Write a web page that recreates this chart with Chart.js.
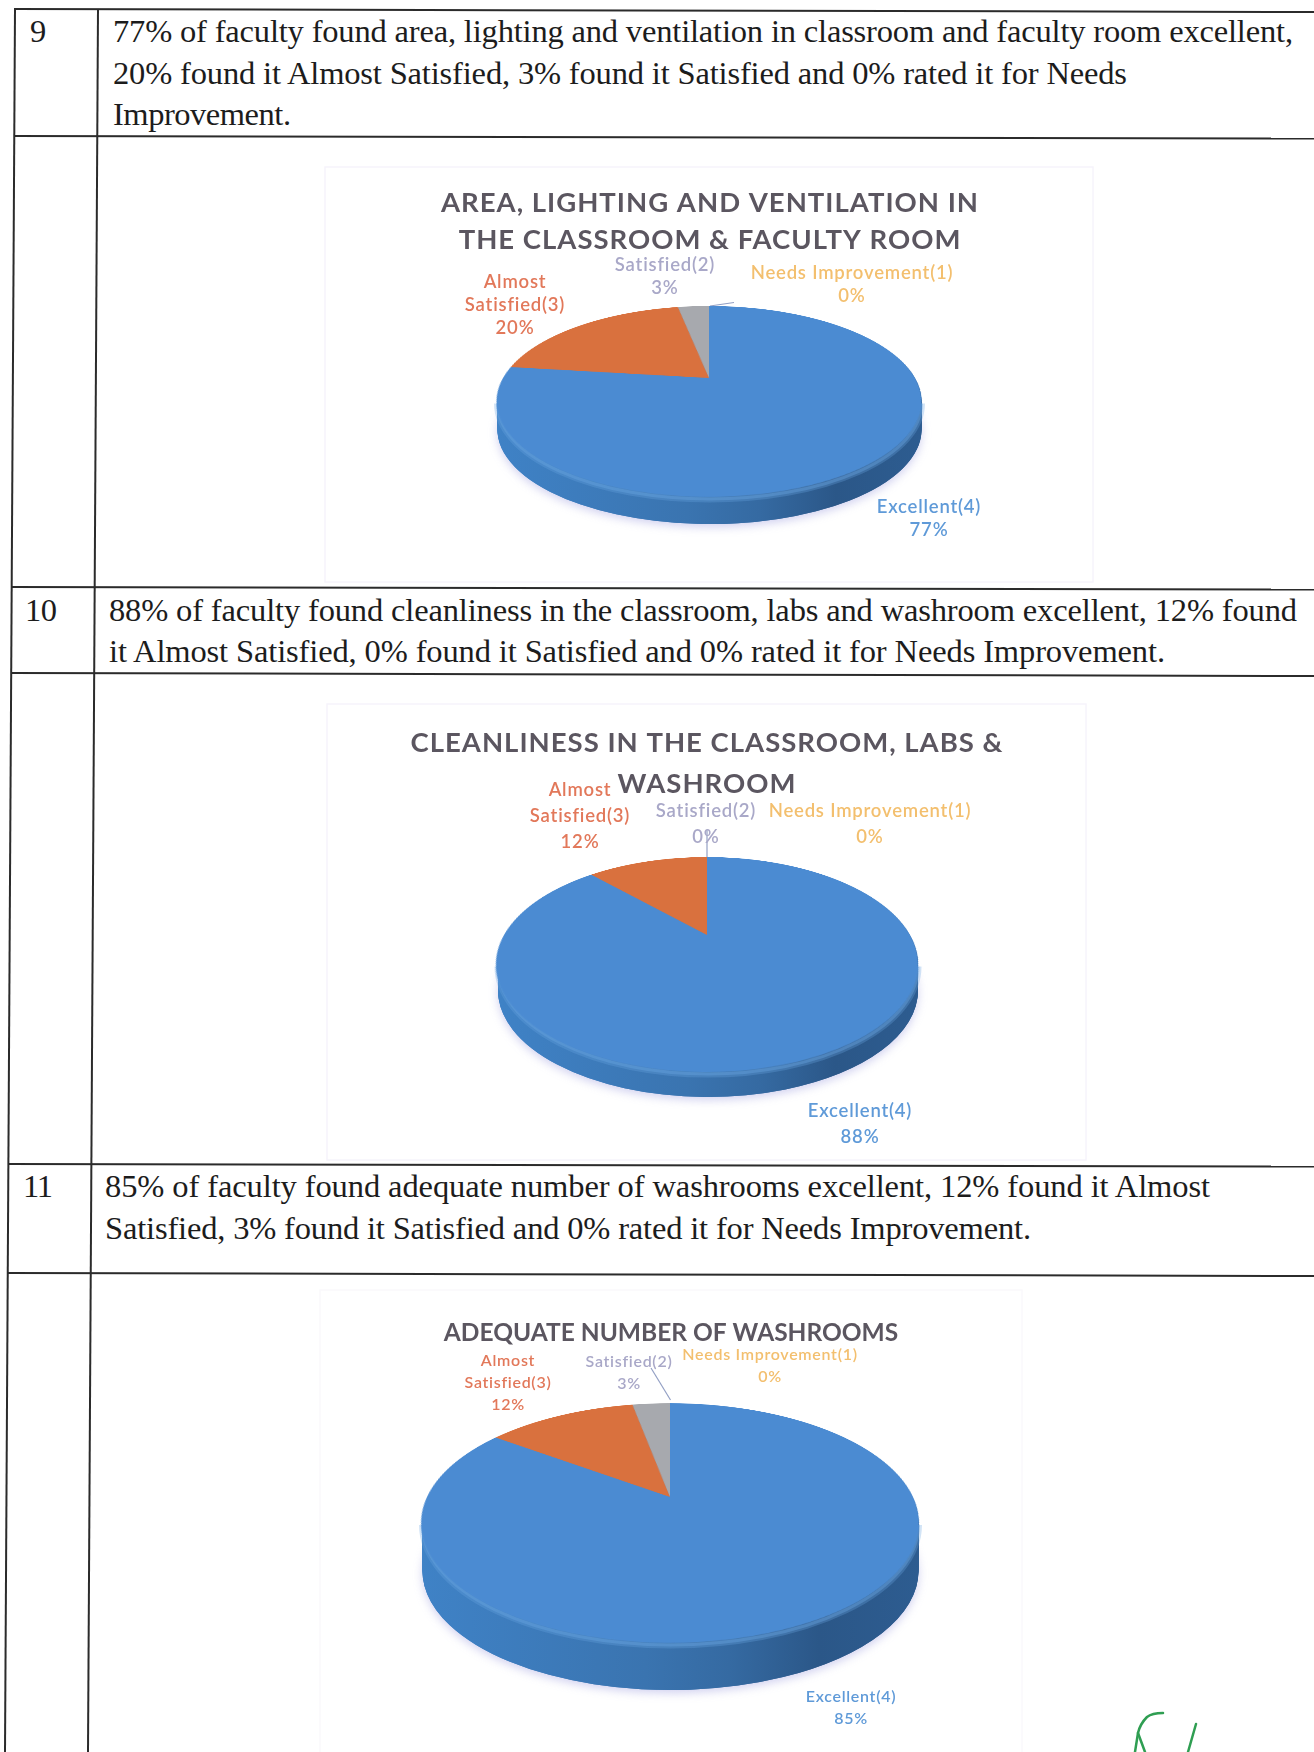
<!DOCTYPE html>
<html>
<head>
<meta charset="utf-8">
<title>Faculty feedback</title>
<script src="https://cdn.jsdelivr.net/npm/chart.js@4"></script>
<style>
  html, body { margin: 0; padding: 0; background: #fff; }
  #page { position: relative; width: 1314px; height: 1752px; overflow: hidden; background: #fff; }
  #page svg { position: absolute; left: 0; top: 0; }
  #page canvas { position: absolute; }
  .body { font-family: "Liberation Serif", serif; font-size: 32.5px; fill: #1c1c1c; }
</style>
</head>
<body>
<div id="page">
<svg width="1314" height="1752" xmlns="http://www.w3.org/2000/svg">
  <!-- faint frames of the pasted charts -->
  <g fill="none" stroke="#f6f4fb" stroke-width="1.5">
    <rect x="325" y="167" width="768" height="415"/>
    <rect x="327" y="704" width="759" height="456"/>
  </g>
  <rect x="320" y="1290" width="702" height="480" fill="none" stroke="#faf9fc" stroke-width="1.5"/>
  <!-- table -->
  <g stroke="#2b2b2b" stroke-width="2" fill="none">
    <line x1="14" y1="9" x2="1314" y2="12"/>
    <line x1="14" y1="136" x2="1314" y2="138.5"/>
    <line x1="11" y1="587" x2="1314" y2="589.5"/>
    <line x1="11" y1="673" x2="1314" y2="676"/>
    <line x1="8" y1="1164" x2="1314" y2="1166.5"/>
    <line x1="7" y1="1273" x2="1314" y2="1276"/>
    <line x1="15" y1="9" x2="5" y2="1752"/>
    <line x1="98" y1="9" x2="88" y2="1752"/>
  </g>
  <g class="body">
    <text class="body" x="30" y="42">9</text>
    <text class="body" x="113" y="42" textLength="1180">77% of faculty found area, lighting and ventilation in classroom and faculty room excellent,</text>
    <text class="body" x="113" y="84" textLength="1014">20% found it Almost Satisfied, 3% found it Satisfied and 0% rated it for Needs</text>
    <text class="body" x="113" y="125" textLength="178">Improvement.</text>
    <text class="body" x="25" y="621" textLength="32">10</text>
    <text class="body" x="109" y="621" textLength="1188">88% of faculty found cleanliness in the classroom, labs and washroom excellent, 12% found</text>
    <text class="body" x="109" y="662" textLength="1056">it Almost Satisfied, 0% found it Satisfied and 0% rated it for Needs Improvement.</text>
    <text class="body" x="23" y="1197" textLength="30">11</text>
    <text class="body" x="105" y="1197" textLength="1105">85% of faculty found adequate number of washrooms excellent, 12% found it Almost</text>
    <text class="body" x="105" y="1239" textLength="926">Satisfied, 3% found it Satisfied and 0% rated it for Needs Improvement.</text>
  </g>
  <!-- pen mark at the bottom -->
  <g fill="none" stroke="#2f9e52" stroke-width="2.5" stroke-linecap="round">
    <path d="M1163 1713 Q1152 1713 1147 1717 Q1140 1724 1138 1733 L1135 1752"/>
    <path d="M1138 1733 L1145 1752"/>
    <path d="M1196 1724 L1188 1752"/>
  </g>
</svg>
<canvas id="areaWall"></canvas>
<canvas id="areaTop"></canvas>
<canvas id="cleanWall"></canvas>
<canvas id="cleanTop"></canvas>
<canvas id="washWall"></canvas>
<canvas id="washTop"></canvas>
</div>
<script>
// chart data
const categories = ['Excellent(4)', 'Almost Satisfied(3)', 'Satisfied(2)', 'Needs Improvement(1)'];
const labelLines = [['Excellent(4)'], ['Almost', 'Satisfied(3)'], ['Satisfied(2)'], ['Needs Improvement(1)']];
const areaValues = [77, 20, 3, 0];
const cleanValues = [88, 12, 0, 0];
const washValues = [85, 12, 3, 0];
const areaTitle = ['AREA, LIGHTING AND VENTILATION IN', 'THE CLASSROOM & FACULTY ROOM'];
const cleanTitle = ['CLEANLINESS IN THE CLASSROOM, LABS &', 'WASHROOM'];
const washTitle = ['ADEQUATE NUMBER OF WASHROOMS'];

const sliceColors = ['#4b8bd2', '#d9713e', '#a7a9ae', '#f0b34a'];
const labelColors = ['#5f9ad8', '#e2785a', '#a9a8c8', '#f3bf6e'];

// where each chart sits on the page
const areaLayout = {
  id: 'area', values: areaValues, title: areaTitle,
  box: { x: 325, y: 167, w: 770, h: 415 },
  wall: { cx: 709.5, cy: 401.5, rx: 212, ry: 94.5, depth: 28 },
  top: { x: 709, y: 378, r: 206, persp: 757, angle: 64.2 },
  titleSize: 27.5, titleSpacing: 1, titleLine: 37, titlePad: 18,
  labelSize: 18.5, labelSpacing: 0.8, labelGap: 23,
  labelPos: [[929, 507], [515, 282], [665, 265], [852, 273]],
  leader: [[710, 306], [734, 302.5]]
};
const cleanLayout = {
  id: 'clean', values: cleanValues, title: cleanTitle,
  box: { x: 327, y: 704, w: 760, h: 456 },
  wall: { cx: 708, cy: 964.5, rx: 210, ry: 106.5, depth: 26 },
  top: { x: 707, y: 935, r: 203, persp: 645, angle: 60.7 },
  titleSize: 27.5, titleSpacing: 1, titleLine: 41, titlePad: 19,
  labelSize: 18.5, labelSpacing: 0.8, labelGap: 26,
  labelPos: [[860, 1111], [580, 790], [706, 811], [870, 811]],
  leader: [[707, 857], [707, 830]]
};
const washLayout = {
  id: 'wash', values: washValues, title: washTitle,
  box: { x: 320, y: 1290, w: 702, h: 460 },
  wall: { cx: 670.5, cy: 1523, rx: 248, ry: 119, depth: 48 },
  top: { x: 670, y: 1497, r: 243, persp: 990, angle: 62 },
  titleSize: 24.5, titleSpacing: 0, titleLine: 30, titlePad: 28,
  labelSize: 16, labelSpacing: 0.7, labelGap: 22,
  labelPos: [[851, 1697], [508, 1361], [629, 1362], [770, 1355]],
  leader: [[670.5, 1400], [651, 1368]]
};

Chart.defaults.font.family = 'Lato, "Open Sans", sans-serif';

// side wall of the "3D" pie, the percent labels and the leader line
const wallPlugin = {
  id: 'wallPlugin',
  beforeDraw(chart, args, opts) {
    chart.ctx.letterSpacing = opts.layout.titleSpacing + 'px';
  },
  beforeDatasetsDraw(chart, args, opts) {
    const lay = opts.layout;
    const w = lay.wall;
    const ctx = chart.ctx;
    ctx.letterSpacing = '0px';
    const arcs = chart.getDatasetMeta(0).data;
    const drawAt = function(offset) {
      arcs.forEach(arc => {
        ctx.save();
        ctx.translate(w.cx - lay.box.x, w.cy - lay.box.y + offset);
        ctx.scale(1, w.ry / w.rx);
        ctx.translate(-arc.x, -arc.y);
        arc.draw(ctx);
        ctx.restore();
      });
    };
    // soft halo under the pie
    ctx.save();
    ctx.shadowColor = 'rgba(120,120,210,0.35)';
    ctx.shadowBlur = 10;
    ctx.shadowOffsetY = 3;
    drawAt(w.depth);
    ctx.restore();
    for (let k = w.depth; k >= 0; k--) drawAt(k);

    // lighter bevel along the front rim
    ctx.save();
    ctx.beginPath();
    ctx.ellipse(w.cx - lay.box.x, w.cy - lay.box.y + 2, w.rx, w.ry + 1, 0, 0, Math.PI);
    ctx.strokeStyle = 'rgba(105,165,225,0.3)';
    ctx.lineWidth = 7;
    ctx.stroke();
    ctx.strokeStyle = 'rgba(105,165,225,0.4)';
    ctx.lineWidth = 3;
    ctx.stroke();
    ctx.restore();
    return false;
  },
  afterDraw(chart, args, opts) {
    const lay = opts.layout;
    const ctx = chart.ctx;
    ctx.save();
    ctx.translate(-lay.box.x, -lay.box.y);
    ctx.beginPath();
    ctx.moveTo(lay.leader[0][0], lay.leader[0][1]);
    ctx.lineTo(lay.leader[1][0], lay.leader[1][1]);
    ctx.strokeStyle = '#93a0c4';
    ctx.lineWidth = 1.2;
    ctx.stroke();
    ctx.font = '600 ' + lay.labelSize + 'px Lato, "Open Sans", sans-serif';
    ctx.letterSpacing = lay.labelSpacing + 'px';
    ctx.textAlign = 'center';
    ctx.textBaseline = 'middle';
    lay.values.forEach((v, i) => {
      ctx.fillStyle = labelColors[i];
      const lines = labelLines[i].concat([v + '%']);
      lines.forEach((txt, n) => {
        ctx.fillText(txt, lay.labelPos[i][0], lay.labelPos[i][1] + n * lay.labelGap);
      });
    });
    ctx.restore();
  }
};

function drawPie(lay) {
  // wall + title + labels live on a flat canvas the size of the pasted chart
  const wallCanvas = document.getElementById(lay.id + 'Wall');
  wallCanvas.width = lay.box.w;
  wallCanvas.height = lay.box.h;
  wallCanvas.style.left = lay.box.x + 'px';
  wallCanvas.style.top = lay.box.y + 'px';
  const wctx = wallCanvas.getContext('2d');
  const wx = lay.wall.cx - lay.box.x;
  const grad = wctx.createLinearGradient(wx - lay.wall.rx, 0, wx + lay.wall.rx, 0);
  grad.addColorStop(0, '#3f82c6');
  grad.addColorStop(0.45, '#3a74b0');
  grad.addColorStop(0.62, '#356aa2');
  grad.addColorStop(0.8, '#2b5788');
  grad.addColorStop(1, '#2d5c90');

  new Chart(wctx, {
    type: 'pie',
    data: {
      labels: categories,
      datasets: [{ data: lay.values, backgroundColor: grad, borderWidth: 0, radius: lay.wall.rx }]
    },
    options: {
      responsive: false,
      animation: false,
      plugins: {
        legend: { display: false },
        tooltip: { enabled: false },
        title: {
          display: true,
          text: lay.title,
          color: '#5b5660',
          font: { size: lay.titleSize, weight: 'bold', lineHeight: lay.titleLine / lay.titleSize },
          padding: { top: lay.titlePad, bottom: 0 }
        },
        wallPlugin: { layout: lay }
      }
    },
    plugins: [wallPlugin]
  });

  // top face: a flat pie tilted back with a css perspective
  const topCanvas = document.getElementById(lay.id + 'Top');
  const size = lay.top.r * 2 + 4;
  topCanvas.width = size;
  topCanvas.height = size;
  topCanvas.style.left = (lay.top.x - size / 2) + 'px';
  topCanvas.style.top = (lay.top.y - size / 2) + 'px';
  topCanvas.style.transformOrigin = '50% 50%';
  topCanvas.style.transform = 'perspective(' + lay.top.persp + 'px) rotateX(' + lay.top.angle + 'deg)';
  new Chart(topCanvas.getContext('2d'), {
    type: 'pie',
    data: {
      labels: categories,
      datasets: [{ data: lay.values, backgroundColor: sliceColors, borderWidth: 0, radius: lay.top.r }]
    },
    options: {
      responsive: false,
      animation: false,
      devicePixelRatio: 2,
      plugins: { legend: { display: false }, tooltip: { enabled: false } }
    }
  });
}

window.onload = function() {
  drawPie(areaLayout);
  drawPie(cleanLayout);
  drawPie(washLayout);
};
</script>
</body>
</html>
